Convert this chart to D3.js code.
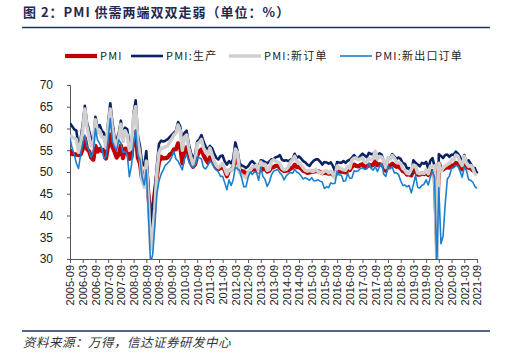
<!DOCTYPE html>
<html><head><meta charset="utf-8">
<script src="https://cdn.jsdelivr.net/npm/d3@7"></script>
<style>body{margin:0;background:#fff;}svg{display:block;}</style>
</head><body>
<script>
const seriesNames = ["PMI", "PMI:生产", "PMI:新订单", "PMI:新出口订单"];
const tickLabels = ["2005-09","2006-03","2006-09","2007-03","2007-09","2008-03","2008-09","2009-03","2009-09","2010-03","2010-09","2011-03","2011-09","2012-03","2012-09","2013-03","2013-09","2014-03","2014-09","2015-03","2015-09","2016-03","2016-09","2017-03","2017-09","2018-03","2018-09","2019-03","2019-09","2020-03","2020-09","2021-03","2021-09"];
const yTicks = [30,35,40,45,50,55,60,65,70];

const pmi = [55.1,54.1,54.1,54.0,
53.9,54.0,55.3,57.8,55.3,54.8,53.3,52.8,56.0,54.7,55.3,54.8,
55.1,53.1,56.1,58.6,55.8,54.7,53.3,54.0,56.1,53.2,55.4,55.3,
53.0,53.4,58.4,59.2,53.3,52.0,48.4,48.4,51.2,44.6,38.8,41.2,
45.3,49.0,52.4,53.5,53.1,53.2,53.3,54.0,54.3,55.2,55.2,56.6,
55.8,52.0,55.1,55.7,53.9,52.1,51.2,51.7,53.8,54.7,55.2,53.9,
52.9,52.2,53.4,52.9,52.0,50.9,50.7,50.9,51.2,50.4,49.0,50.3,
50.5,51.0,53.1,53.3,50.4,50.2,50.1,49.2,49.8,50.2,50.6,50.6,
50.4,50.1,50.9,50.6,50.8,50.1,50.3,51.0,51.1,51.4,51.4,51.0,
50.5,50.2,50.3,50.4,50.8,51.0,51.7,51.1,51.1,50.8,50.3,50.1,
49.8,49.9,50.1,50.1,50.2,50.2,50.0,49.7,49.8,49.8,49.6,49.7,
49.4,49.0,50.2,50.1,50.1,50.0,49.9,50.4,50.4,51.2,51.7,51.4,
51.3,51.6,51.8,51.2,51.2,51.7,51.4,51.7,52.4,51.6,51.8,51.6,
51.3,50.3,51.5,51.4,51.9,51.5,51.2,51.3,50.8,50.2,50.0,49.4,
49.5,49.2,50.5,50.1,49.4,49.4,49.7,49.5,49.8,49.3,50.2,50.2,
50.0,35.7,52.0,50.8,50.6,50.9,51.1,51.0,51.5,51.4,52.1,51.9,
51.3,50.6,51.9,51.1,51.0,50.9,50.4,50.1,49.6];

const production = [61.2,60.5,59.8,59.5,
56.0,57.5,61.0,65.2,61.5,59.5,57.4,57.0,62.7,60.3,60.8,59.5,
59.0,56.0,61.5,65.8,61.5,58.0,57.5,59.0,61.8,58.5,60.2,59.8,
56.5,56.0,63.5,66.5,58.5,56.0,52.0,51.5,54.8,46.5,36.8,41.0,
45.5,51.5,56.5,57.2,57.0,57.2,57.5,58.0,58.5,59.0,59.5,61.5,
60.5,57.0,59.0,59.5,56.5,54.5,53.2,54.0,57.0,57.5,58.5,57.0,
55.8,55.2,56.0,55.5,54.2,53.3,52.9,53.7,53.8,52.4,51.7,52.5,
52.0,53.0,56.8,55.0,52.0,51.5,51.3,50.9,51.3,52.1,52.5,52.0,
51.3,51.2,52.7,52.6,52.3,52.0,52.4,52.9,52.9,53.4,53.5,53.9,
52.8,52.6,52.7,52.5,52.8,53.0,54.2,53.2,53.6,53.1,52.5,52.2,
51.7,51.4,52.1,52.6,52.9,52.9,52.4,51.7,52.3,52.2,51.9,52.2,
51.4,50.2,52.3,52.2,52.1,52.5,52.1,52.6,52.8,53.3,53.9,53.3,
53.1,53.7,54.2,53.8,53.4,54.4,54.1,54.1,54.7,53.4,54.3,54.0,
52.6,50.7,53.1,53.1,54.1,53.6,53.0,53.3,53.0,52.0,51.9,50.8,
50.9,49.5,52.7,52.1,51.7,51.3,52.1,51.9,52.3,50.8,52.6,53.2,
51.3,27.8,54.1,53.7,53.2,53.9,54.0,53.5,54.0,53.9,54.7,54.2,
53.5,51.9,53.9,52.2,52.7,51.9,51.0,50.9,49.5];

const newOrders = [58.5,58.0,57.8,57.5,
54.5,56.5,59.5,64.5,60.5,58.0,56.0,56.0,62.0,59.0,59.5,58.0,
58.0,55.5,60.5,64.5,60.0,57.0,56.0,58.0,61.0,57.0,59.5,58.5,
55.0,55.5,63.0,65.0,57.0,54.0,48.0,46.5,52.5,43.5,32.3,35.8,
41.5,50.0,54.5,55.5,55.5,55.8,56.0,56.8,57.5,58.5,59.0,60.8,
59.5,55.0,58.0,58.5,55.5,53.5,51.8,52.5,56.5,56.8,57.5,55.5,
54.5,54.0,55.5,54.0,52.5,51.5,51.0,51.5,52.0,50.8,49.5,50.5,
50.4,51.0,55.3,54.5,49.8,49.2,49.0,48.7,49.8,50.4,51.2,51.2,
51.6,50.1,52.3,51.7,51.8,50.4,50.6,52.4,52.8,52.5,52.3,52.0,
50.9,50.5,50.6,51.2,52.3,52.8,53.6,52.5,52.2,51.6,50.9,50.4,
50.2,50.4,50.2,50.2,50.6,50.1,49.9,49.7,50.2,50.3,49.8,50.2,
49.5,48.6,51.4,51.0,50.7,50.5,50.4,51.3,50.9,52.8,53.2,53.2,
52.8,53.0,53.3,52.3,52.3,53.1,52.8,53.1,54.8,52.9,53.6,53.4,
52.6,51.0,53.3,52.9,53.8,53.2,52.3,52.2,52.0,50.8,50.4,49.7,
49.6,50.6,51.6,51.4,49.8,49.6,49.8,49.7,50.5,49.6,51.3,51.2,
51.4,29.3,52.0,50.2,50.9,51.4,51.7,52.0,52.8,52.8,53.9,53.6,
52.3,51.5,53.6,52.0,51.3,51.5,50.9,49.6,49.3];

const exportOrders = [57.8,55.5,54.0,52.0,
50.8,54.0,56.5,58.5,56.0,55.0,53.4,54.5,60.0,57.4,56.5,55.5,
53.1,53.5,57.5,62.3,57.0,55.8,55.0,57.4,56.6,54.5,54.7,54.0,
48.9,51.5,56.5,59.7,54.0,52.8,48.9,47.0,50.5,40.0,29.0,31.0,
37.5,45.0,48.0,49.5,50.5,51.6,52.0,52.5,53.5,54.7,53.0,52.5,
51.5,50.5,53.0,54.0,52.5,51.5,51.0,51.5,53.5,53.3,53.0,51.0,
50.7,51.5,52.5,52.0,51.0,50.5,50.0,49.0,49.0,47.5,45.9,48.2,
46.9,48.2,51.1,50.7,50.4,48.6,46.6,46.6,48.7,50.0,49.4,50.0,
49.9,48.1,51.1,49.0,48.3,46.7,47.6,49.3,50.2,50.4,50.6,49.8,
49.3,48.2,49.1,49.6,49.9,49.7,50.6,50.0,49.7,49.1,48.4,48.7,
48.4,48.1,48.7,48.0,48.0,48.2,47.9,47.7,46.2,46.6,46.4,47.5,
47.3,47.4,50.2,49.3,49.3,47.9,48.0,49.7,48.5,48.6,50.3,50.1,
50.3,50.8,51.0,50.6,50.7,52.0,50.9,50.4,51.3,50.1,51.2,51.9,
49.5,49.0,51.3,50.7,51.2,49.8,49.8,49.4,48.0,46.9,47.0,46.6,
46.9,45.2,47.1,49.2,46.5,46.3,46.9,47.2,48.2,47.0,48.8,50.3,
48.7,28.7,46.4,33.5,35.3,42.6,48.4,49.1,50.8,51.0,51.5,51.3,
50.2,48.8,51.2,50.4,48.3,48.1,47.7,46.7,46.2];

// category labels (one per month)
const months = [];
for (let yr = 2005, m = 9; months.length < pmi.length; ) {
  months.push(yr + "-" + String(m).padStart(2, "0"));
  m++; if (m > 12) { m = 1; yr++; }
}

const W = 508, H = 356;
const svg = d3.select("body").append("svg").attr("width", W).attr("height", H);
const cjk = "'Noto Sans CJK SC','Noto Sans',sans-serif";
const latin = "'Liberation Sans',Arial,sans-serif";

// title
svg.append("text").attr("x", 23).attr("y", 17)
  .attr("font-family", cjk).attr("font-size", 13).attr("font-weight", "bold")
  .attr("letter-spacing", 1)
  .attr("fill", "#1f2a52")
  .text("图 2：PMI 供需两端双双走弱（单位：%）");
svg.append("line").attr("x1", 22).attr("x2", 490).attr("y1", 27.5).attr("y2", 27.5)
  .attr("stroke", "#1f3163").attr("stroke-width", 1.5);

// scales
const x = d3.scaleLinear().domain([0, months.length - 1]).range([70, 477]);
const y = d3.scaleLinear().domain([30, 70]).range([259, 85]);

// y axis
const yAxis = svg.append("g").attr("transform", "translate(70,0)")
  .call(d3.axisLeft(y).tickValues(yTicks).tickSize(3).tickPadding(14));
yAxis.selectAll("text").attr("font-family", latin).attr("font-size", 12).attr("fill", "#222");
yAxis.selectAll("line,path").attr("stroke", "#555");

// x axis
const tickIdx = tickLabels.map(l => months.indexOf(l));
const xAxis = svg.append("g").attr("transform", "translate(0,259)")
  .call(d3.axisBottom(x).tickValues(tickIdx).tickFormat((d, i) => tickLabels[i]).tickSize(4).tickSizeOuter(0));
xAxis.selectAll("line,path").attr("stroke", "#555");
xAxis.selectAll("text")
  .attr("font-family", latin).attr("font-size", 11).attr("fill", "#222")
  .attr("text-anchor", "end").attr("dy", "0.35em")
  .attr("transform", "translate(0,6) rotate(-90)")
  .attr("x", 0).attr("y", 0);

// lines
svg.append("clipPath").attr("id", "clip").append("rect")
  .attr("x", 70).attr("y", 85).attr("width", 410).attr("height", 174);
const series = [
  {name: seriesNames[0], values: pmi, color: "#c00000", width: 4.2},
  {name: seriesNames[1], values: production, color: "#0c2266", width: 2.6},
  {name: seriesNames[2], values: newOrders, color: "#cfcfcf", width: 3.5},
  {name: seriesNames[3], values: exportOrders, color: "#1b7fd0", width: 1.6}
];
const line = d3.line().x((d, i) => x(i)).y(d => y(d));
const g = svg.append("g").attr("clip-path", "url(#clip)");
series.forEach(s => {
  g.append("path").datum(s.values).attr("d", line)
    .attr("fill", "none").attr("stroke", s.color).attr("stroke-width", s.width)
    .attr("stroke-linejoin", "round");
});

// legend
const legendX = [65, 131, 229, 340];
series.forEach((s, i) => {
  const lg = svg.append("g").attr("transform", `translate(${legendX[i]},56)`);
  lg.append("line").attr("x1", 0).attr("x2", 32).attr("y1", 0).attr("y2", 0)
    .attr("stroke", s.color).attr("stroke-width", s.width);
  lg.append("text").attr("x", 35).attr("y", 4)
    .attr("font-family", cjk).attr("font-size", 11).attr("fill", "#222")
    .attr("letter-spacing", 1.2)
    .text(s.name);
});

// source
svg.append("line").attr("x1", 22).attr("x2", 490).attr("y1", 331).attr("y2", 331)
  .attr("stroke", "#1f3163").attr("stroke-width", 1.5);
svg.append("text").attr("x", 23).attr("y", 347)
  .attr("font-family", cjk).attr("font-size", 12.5).attr("font-style", "italic")
  .attr("letter-spacing", 0.5)
  .attr("fill", "#333")
  .text("资料来源：万得，信达证券研发中心");
</script>
</body></html>
